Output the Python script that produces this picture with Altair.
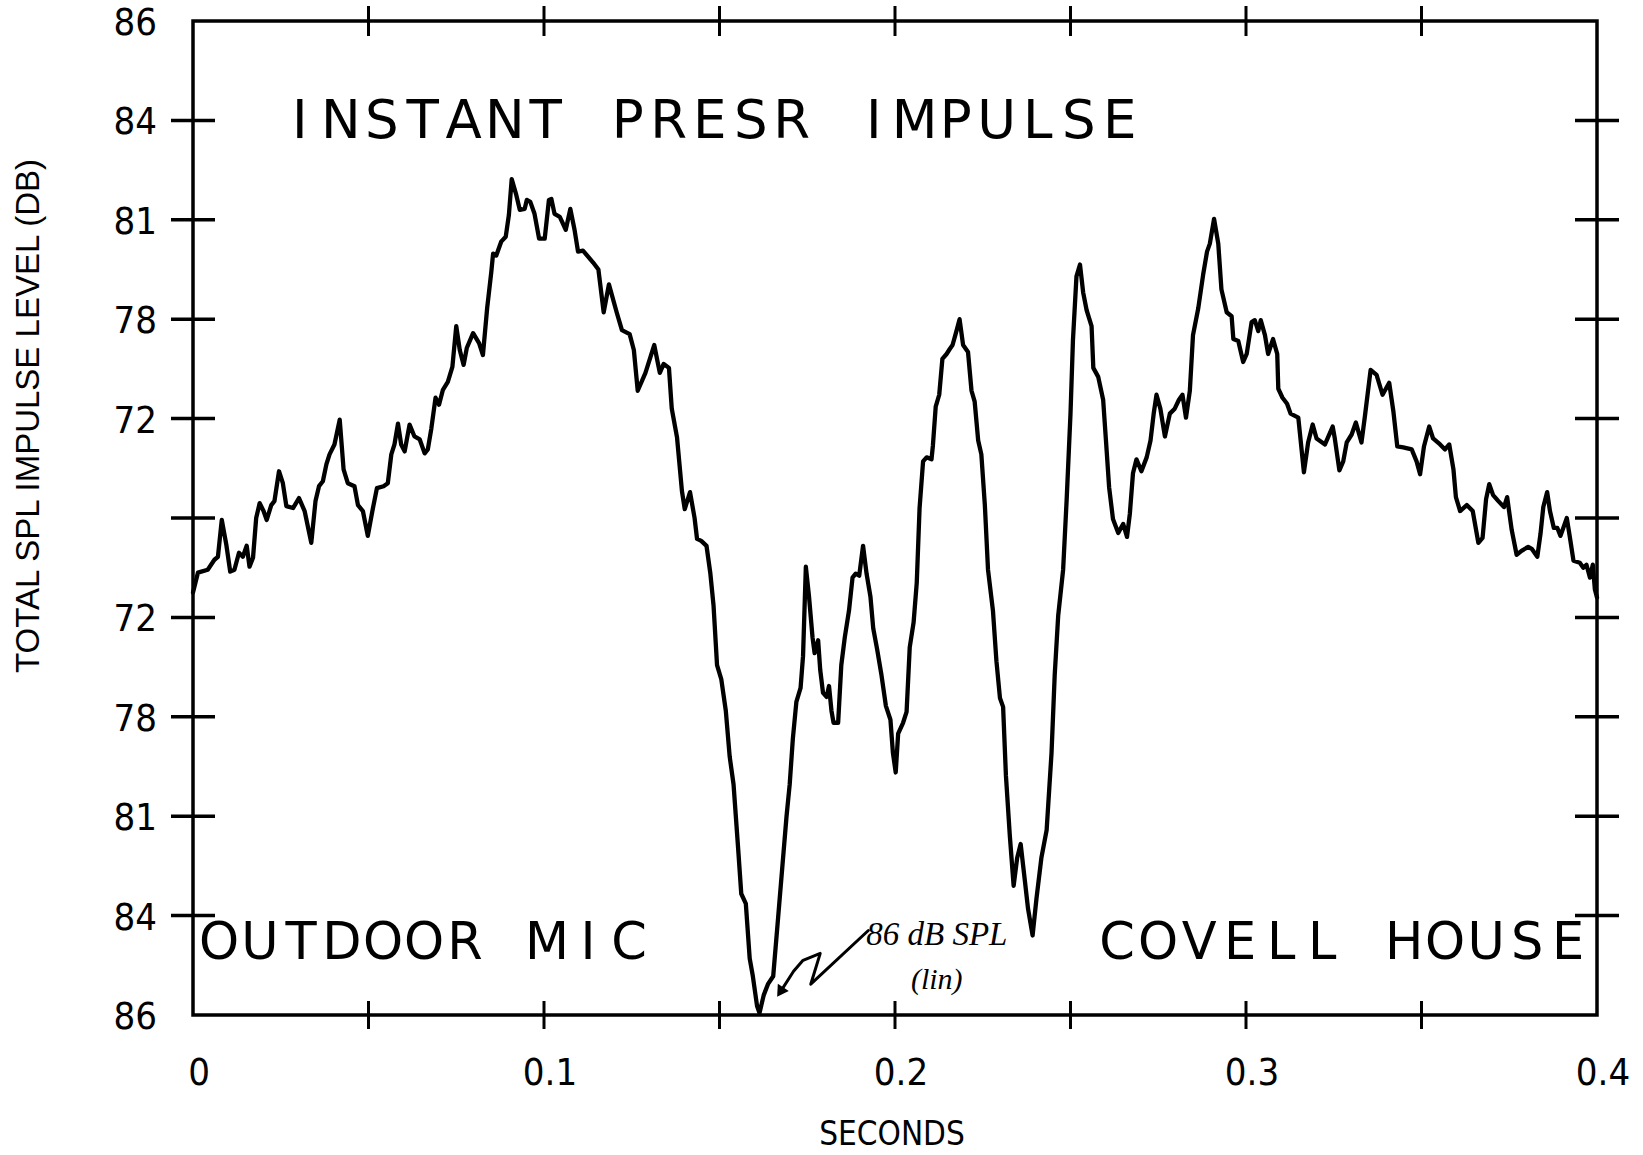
import altair as alt
import pandas as pd

# Instantaneous pressure trace, seconds vs. level divisions (+5 top, -5 bottom)
TIME = [
    0.0000, 0.0014, 0.0042, 0.0061, 0.0071, 0.0082, 0.0095, 0.0106, 0.0118, 0.0131,
    0.0142, 0.0153, 0.0161, 0.0171, 0.0180, 0.0190, 0.0201, 0.0210, 0.0223, 0.0232,
    0.0245, 0.0256, 0.0266, 0.0285, 0.0302, 0.0318, 0.0337, 0.0349, 0.0359, 0.0370,
    0.0380, 0.0389, 0.0403, 0.0418, 0.0429, 0.0441, 0.0460, 0.0470, 0.0484, 0.0498,
    0.0511, 0.0524, 0.0543, 0.0555, 0.0565, 0.0574, 0.0584, 0.0593, 0.0603, 0.0617,
    0.0631, 0.0646, 0.0660, 0.0669, 0.0679, 0.0691, 0.0701, 0.0712, 0.0726, 0.0739,
    0.0750, 0.0760, 0.0771, 0.0780, 0.0798, 0.0815, 0.0826, 0.0838, 0.0850, 0.0855,
    0.0864, 0.0878, 0.0891, 0.0900, 0.0908, 0.0921, 0.0931, 0.0945, 0.0951, 0.0961,
    0.0973, 0.0986, 0.1002, 0.1014, 0.1021, 0.1030, 0.1045, 0.1062, 0.1075, 0.1087,
    0.1097, 0.1111, 0.1140, 0.1155, 0.1170, 0.1185, 0.1207, 0.1222, 0.1244, 0.1256,
    0.1267, 0.1289, 0.1314, 0.1330, 0.1341, 0.1356, 0.1364, 0.1379, 0.1393, 0.1401,
    0.1416, 0.1429, 0.1436, 0.1448, 0.1463, 0.1474, 0.1483, 0.1493, 0.1505, 0.1518,
    0.1529, 0.1540, 0.1553, 0.1562, 0.1575, 0.1586, 0.1595, 0.1607, 0.1614, 0.1626,
    0.1638, 0.1653, 0.1667, 0.1679, 0.1691, 0.1700, 0.1709, 0.1719, 0.1731, 0.1738,
    0.1746, 0.1755, 0.1765, 0.1771, 0.1781, 0.1787, 0.1795, 0.1805, 0.1812, 0.1819,
    0.1825, 0.1838, 0.1847, 0.1857, 0.1869, 0.1879, 0.1888, 0.1898, 0.1909, 0.1919,
    0.1930, 0.1938, 0.1949, 0.1961, 0.1974, 0.1987, 0.1994, 0.2002, 0.2009, 0.2023,
    0.2033, 0.2042, 0.2053, 0.2062, 0.2070, 0.2080, 0.2090, 0.2104, 0.2108, 0.2116,
    0.2126, 0.2135, 0.2147, 0.2156, 0.2164, 0.2175, 0.2184, 0.2194, 0.2208, 0.2218,
    0.2227, 0.2237, 0.2246, 0.2256, 0.2265, 0.2279, 0.2289, 0.2299, 0.2308, 0.2316,
    0.2327, 0.2338, 0.2348, 0.2358, 0.2370, 0.2379, 0.2392, 0.2403, 0.2417, 0.2432,
    0.2446, 0.2455, 0.2465, 0.2479, 0.2489, 0.2500, 0.2507, 0.2517, 0.2527, 0.2536,
    0.2546, 0.2560, 0.2565, 0.2579, 0.2593, 0.2601, 0.2610, 0.2621, 0.2636, 0.2650,
    0.2661, 0.2669, 0.2678, 0.2688, 0.2702, 0.2717, 0.2728, 0.2737, 0.2745, 0.2756,
    0.2769, 0.2783, 0.2797, 0.2809, 0.2819, 0.2829, 0.2840, 0.2849, 0.2864, 0.2878,
    0.2889, 0.2897, 0.2909, 0.2921, 0.2930, 0.2945, 0.2959, 0.2964, 0.2978, 0.2992,
    0.3002, 0.3016, 0.3025, 0.3035, 0.3042, 0.3054, 0.3063, 0.3077, 0.3089, 0.3092,
    0.3104, 0.3117, 0.3127, 0.3149, 0.3165, 0.3177, 0.3190, 0.3201, 0.3225, 0.3247,
    0.3253, 0.3266, 0.3277, 0.3287, 0.3301, 0.3313, 0.3329, 0.3339, 0.3355, 0.3372,
    0.3389, 0.3408, 0.3420, 0.3431, 0.3448, 0.3472, 0.3486, 0.3496, 0.3507, 0.3522,
    0.3533, 0.3553, 0.3567, 0.3579, 0.3591, 0.3598, 0.3610, 0.3629, 0.3646, 0.3662,
    0.3674, 0.3684, 0.3693, 0.3704, 0.3719, 0.3735, 0.3744, 0.3757, 0.3771, 0.3785,
    0.3804, 0.3814, 0.3830, 0.3839, 0.3847, 0.3858, 0.3866, 0.3877, 0.3887, 0.3896,
    0.3914, 0.3923, 0.3933, 0.3951, 0.3961, 0.3970, 0.3980, 0.3988, 0.3994, 0.4000,
]
LEVEL = [
    -0.75, -0.55, -0.52, -0.42, -0.39, -0.02, -0.27, -0.54, -0.52, -0.35,
    -0.39, -0.28, -0.49, -0.40, 0.00, 0.15, 0.07, -0.02, 0.13, 0.17,
    0.47, 0.35, 0.12, 0.10, 0.20, 0.07, -0.25, 0.17, 0.32, 0.37,
    0.54, 0.64, 0.74, 0.99, 0.49, 0.35, 0.32, 0.13, 0.07, -0.18,
    0.07, 0.30, 0.32, 0.35, 0.64, 0.74, 0.95, 0.74, 0.67, 0.94,
    0.82, 0.79, 0.65, 0.69, 0.90, 1.21, 1.14, 1.29, 1.37, 1.52,
    1.93, 1.69, 1.54, 1.71, 1.86, 1.76, 1.64, 2.11, 2.48, 2.66,
    2.64, 2.78, 2.83, 3.05, 3.41, 3.25, 3.10, 3.11, 3.20, 3.18,
    3.06, 2.81, 2.81, 3.20, 3.21, 3.06, 3.03, 2.90, 3.11, 2.90,
    2.68, 2.69, 2.57, 2.50, 2.07, 2.35, 2.07, 1.89, 1.85, 1.69,
    1.28, 1.46, 1.74, 1.46, 1.55, 1.51, 1.10, 0.81, 0.27, 0.09,
    0.26, 0.00, -0.21, -0.23, -0.28, -0.56, -0.88, -1.48, -1.62, -1.94,
    -2.40, -2.68, -3.32, -3.78, -3.88, -4.43, -4.61, -4.91, -4.98, -4.80,
    -4.69, -4.61, -4.02, -3.51, -3.00, -2.68, -2.22, -1.85, -1.71, -1.39,
    -0.49, -0.79, -1.20, -1.36, -1.23, -1.53, -1.76, -1.80, -1.69, -1.94,
    -2.06, -2.06, -1.48, -1.20, -0.93, -0.60, -0.56, -0.58, -0.28, -0.56,
    -0.79, -1.11, -1.32, -1.57, -1.89, -2.03, -2.36, -2.56, -2.17, -2.06,
    -1.95, -1.30, -1.05, -0.65, 0.10, 0.57, 0.61, 0.59, 0.73, 1.12,
    1.24, 1.60, 1.65, 1.70, 1.74, 1.88, 2.00, 1.74, 1.67, 1.28,
    1.17, 0.78, 0.64, 0.13, -0.52, -0.93, -1.44, -1.81, -1.90, -2.59,
    -3.19, -3.70, -3.42, -3.28, -3.65, -3.93, -4.20, -3.83, -3.42, -3.14,
    -2.36, -1.58, -0.98, -0.52, 0.18, 1.05, 1.79, 2.43, 2.55, 2.27,
    2.09, 1.93, 1.51, 1.42, 1.19, 0.78, 0.31, -0.01, -0.15, -0.06,
    -0.19, 0.04, 0.45, 0.59, 0.47, 0.61, 0.78, 1.05, 1.24, 1.10,
    0.82, 1.05, 1.10, 1.19, 1.24, 1.01, 1.28, 1.84, 2.11, 2.45,
    2.68, 2.76, 3.01, 2.76, 2.30, 2.07, 2.03, 1.80, 1.78, 1.57,
    1.65, 1.97, 1.99, 1.88, 1.99, 1.84, 1.65, 1.80, 1.65, 1.30,
    1.21, 1.15, 1.05, 1.01, 0.46, 0.76, 0.94, 0.80, 0.74, 0.92,
    0.80, 0.48, 0.57, 0.76, 0.84, 0.96, 0.76, 1.03, 1.49, 1.44,
    1.24, 1.36, 1.07, 0.72, 0.71, 0.69, 0.57, 0.44, 0.72, 0.92,
    0.80, 0.74, 0.69, 0.74, 0.49, 0.21, 0.07, 0.13, 0.07, -0.25,
    -0.20, 0.19, 0.34, 0.23, 0.17, 0.11, 0.21, -0.12, -0.37, -0.33,
    -0.29, -0.31, -0.39, -0.16, 0.11, 0.26, 0.07, -0.10, -0.10, -0.18,
    0.00, -0.20, -0.43, -0.45, -0.50, -0.47, -0.60, -0.47, -0.72, -0.80,
]

# Axis ticks and labels
Y_TICK_VALUES = [5, 4, 3, 2, 1, 0, -1, -2, -3, -4, -5]
Y_TICK_LABELS = ["86", "84", "81", "78", "72", "", "72", "78", "81", "84", "86"]
Y_MINOR = [4, 3, 2, 1, 0, -1, -2, -3, -4]
X_LABEL_VALUES = [0, 0.1, 0.2, 0.3, 0.4]
X_LABEL_TEXT = ["0", "0.1", "0.2", "0.3", "0.4"]
X_MINOR = [0.05, 0.10, 0.15, 0.20, 0.25, 0.30, 0.35]
X_TITLE = "SECONDS"
Y_TITLE = "TOTAL SPL IMPULSE LEVEL (DB)"

# Plotter lettering
HEADLINE = "INSTANT PRESR IMPULSE"
LEFT_TAG = "OUTDOOR MIC"
RIGHT_TAG = "COVELL HOUSE"

# Handwritten note and its arrow
NOTE_MAIN = "86 dB SPL"
NOTE_SUB = "(lin)"
ARROW_T = [0.1924, 0.1760, 0.1787, 0.1738, 0.1711, 0.1673]
ARROW_V = [-4.15, -4.69, -4.38, -4.45, -4.56, -4.77]

# Layout
W, H = 1404, 994
PITCH = 41 / W * 0.4          # plotter character cell, in seconds
BLACK = "black"
NARROW_FONT = "Liberation Sans Narrow, Arial Narrow, DejaVu Sans Condensed, Liberation Sans"
TITLE_FONT = "Liberation Sans"

xscale = alt.Scale(domain=[0, 0.4], nice=False, zero=False)
yscale = alt.Scale(domain=[-5, 5], nice=False, zero=False)
xenc = alt.X("t:Q", scale=xscale, axis=None)
yenc = alt.Y("v:Q", scale=yscale, axis=None)

trace_df = pd.DataFrame({"t": TIME, "v": LEVEL, "i": range(len(TIME))})
trace = alt.Chart(trace_df).mark_line(
    color=BLACK, strokeWidth=4.3, strokeJoin="round", strokeCap="round"
).encode(x=xenc, y=yenc, order="i:Q")

# Tick marks that straddle the frame on all four sides
ydf = pd.DataFrame({"v": Y_MINOR})
xdf = pd.DataFrame({"t": X_MINOR})
tick_left = alt.Chart(ydf).mark_rule(color=BLACK, strokeWidth=3.5).encode(
    y=yenc, x=alt.value(-22), x2=alt.value(22))
tick_right = alt.Chart(ydf).mark_rule(color=BLACK, strokeWidth=3.5).encode(
    y=yenc, x=alt.value(W - 22), x2=alt.value(W + 22))
tick_bottom = alt.Chart(xdf).mark_rule(color=BLACK, strokeWidth=3).encode(
    x=xenc, y=alt.value(H - 14), y2=alt.value(H + 14))
tick_top = alt.Chart(xdf).mark_rule(color=BLACK, strokeWidth=3).encode(
    x=xenc, y=alt.value(-15), y2=alt.value(15))

# Tick labels, placed through the same scales as the trace
ylab_df = pd.DataFrame({"v": Y_TICK_VALUES, "s": Y_TICK_LABELS})
ylabels = alt.Chart(ylab_df).mark_text(
    font=NARROW_FONT, fontSize=38, align="right", baseline="middle", dy=3, color=BLACK
).encode(y=yenc, x=alt.value(-36), text="s:N")

xlab_df = pd.DataFrame({"t": X_LABEL_VALUES, "s": X_LABEL_TEXT})
xlabels = alt.Chart(xlab_df).mark_text(
    font=NARROW_FONT, fontSize=38, align="center", baseline="top", dx=6, color=BLACK
).encode(x=xenc, y=alt.value(H + 40), text="s:N")

xtitle = alt.Chart(pd.DataFrame({"s": [X_TITLE]})).mark_text(
    font=NARROW_FONT, fontSize=33, align="center", baseline="alphabetic", color=BLACK
).encode(x=alt.value(699), y=alt.value(H + 130), text="s:N")

ytitle = alt.Chart(pd.DataFrame({"s": [Y_TITLE]})).mark_text(
    font=TITLE_FONT, fontSize=33, align="center", baseline="middle",
    angle=270, color=BLACK
).encode(x=alt.value(-164), y=alt.value(395), text="s:N")


def lettering(label, t0, v):
    """One row per glyph, placed on a fixed plotter cell pitch."""
    rows = []
    for k, ch in enumerate(label):
        if ch != " ":
            rows.append({"t": t0 + k * PITCH, "v": v, "ch": ch})
    return pd.DataFrame(rows)


def glyph_layer(df, size):
    return alt.Chart(df).mark_text(
        font="DejaVu Sans", fontSize=size, align="center",
        baseline="alphabetic", color=BLACK,
    ).encode(x=xenc, y=yenc, text="ch:N")


headline = glyph_layer(lettering(HEADLINE, 0.0304, 3.82), 53)
left_tag = glyph_layer(lettering(LEFT_TAG, 0.0074, -4.44), 51)
right_tag = glyph_layer(lettering(RIGHT_TAG, 0.2633, -4.44), 51)

note_main = alt.Chart(pd.DataFrame({"t": [0.1918], "v": [-4.30], "s": [NOTE_MAIN]})).mark_text(
    font="Liberation Serif", fontStyle="italic", fontSize=33, align="left",
    baseline="alphabetic", color=BLACK,
).encode(x=xenc, y=yenc, text="s:N")
note_sub = alt.Chart(pd.DataFrame({"t": [0.2119], "v": [-4.74], "s": [NOTE_SUB]})).mark_text(
    font="Liberation Serif", fontStyle="italic", fontSize=30, align="center",
    baseline="alphabetic", color=BLACK,
).encode(x=xenc, y=yenc, text="s:N")

arrow_df = pd.DataFrame({"t": ARROW_T, "v": ARROW_V, "i": range(len(ARROW_T))})
arrow = alt.Chart(arrow_df).mark_line(
    color=BLACK, strokeWidth=3, strokeJoin="round", strokeCap="round"
).encode(x=xenc, y=yenc, order="i:Q")
arrow_head = alt.Chart(arrow_df.tail(1)).mark_point(
    shape="triangle-up", filled=True, size=170, angle=213, color=BLACK, opacity=1
).encode(x=xenc, y=yenc)

chart = alt.layer(
    trace, tick_left, tick_right, tick_bottom, tick_top,
    ylabels, xlabels, xtitle, ytitle,
    headline, left_tag, right_tag, note_main, note_sub, arrow, arrow_head,
).properties(
    width=W, height=H,
    padding={"left": 193, "top": 21, "right": 46, "bottom": 140},
    autosize=alt.AutoSizeParams(type="none"),
    background="white",
).configure_view(
    stroke=BLACK, strokeWidth=3.5, fill="white",
)

chart.save("out.html", embed_options={"renderer": "svg", "actions": False})
